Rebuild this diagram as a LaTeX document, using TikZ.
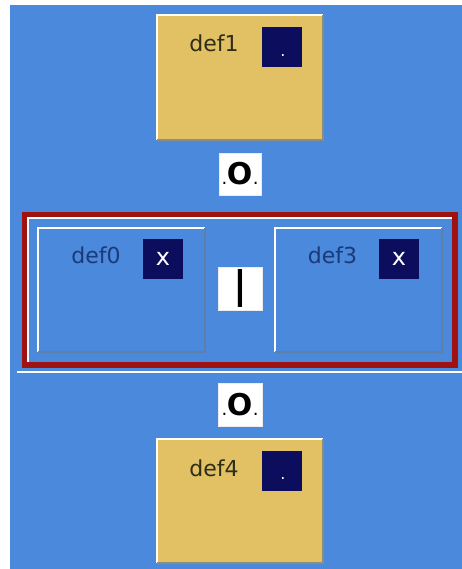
\documentclass[tikz,border=0pt]{standalone}
\usepackage{fontspec}
\setmainfont{DejaVu Sans}
\definecolor{bgblue}{HTML}{4A89DC}
\definecolor{gold}{HTML}{E2C064}
\definecolor{navy}{HTML}{0D0D5E}
\definecolor{framered}{HTML}{9E1212}
\definecolor{gshadow}{HTML}{8C8C80}
\definecolor{bshadow}{HTML}{5E7FA8}
\definecolor{txtdark}{HTML}{2E2E18}
\definecolor{txtblue}{HTML}{1C3A78}
\begin{document}
\begin{tikzpicture}[x=1pt,y=-1pt,
  goldbox/.style={rectangle,fill=gold,inner sep=0pt,minimum width=166pt,minimum height=125pt},
  bluebox/.style={rectangle,fill=bgblue,inner sep=0pt,minimum width=167pt,minimum height=124pt},
  navysq/.style={rectangle,fill=navy,inner sep=0pt,minimum width=40pt,minimum height=40pt},
  opbox/.style={rectangle,fill=white,draw=white!85!gray,line width=0.8pt,inner sep=0pt,minimum width=42pt,minimum height=42pt},
  deflbl/.style={font=\fontsize{22}{22}\selectfont,inner sep=0pt},
  whitemark/.style={text=white,inner sep=0pt},
  hilite/.style={draw=white,line width=2pt},
  lowlite/.style={line width=2pt}
]
\useasboundingbox (0,0) rectangle (462,569);
\fill[white] (0,0) rectangle (462,569);
\fill[bgblue] (10,5) rectangle (462,569);

% top box def1
\node[goldbox] (d1) at (240,77.5) {};
\draw[hilite] (d1.south west) -- (d1.north west) -- (d1.north east);
\draw[lowlite,draw=gshadow] (d1.north east) -- (d1.south east) -- (d1.south west);
\node[deflbl,text=txtdark] (t1) at (214,43) {def1};
\node[navysq] (s1) at (282,47) {};
\node[whitemark,font=\fontsize{16}{16}\selectfont] (m1) at (283,56) {.};

% operator O (top)
\node[opbox] (op1) at (240,174) {};
\node[inner sep=0pt] (o1) at (op1.center) {{\fontsize{18}{18}\selectfont .}\kern-0.5pt{\bfseries\fontsize{30}{30}\selectfont O}\kern0.5pt{\fontsize{18}{18}\selectfont .}};

% frame
\node[rectangle,draw=framered,line width=6pt,inner sep=0pt,minimum width=430pt,minimum height=150pt] (fr) at (240,290) {};
\draw[white,line width=1.5pt] ([shift={(6,-6)}]fr.south west) -- ([shift={(6,6)}]fr.north west) -- ([shift={(-6,6)}]fr.north east);
\draw[white,line width=1.5pt] ([shift={(-5,4)}]fr.south west) -- ([shift={(7,4)}]fr.south east);

% def0
\node[bluebox] (d0) at (121.5,290) {};
\draw[hilite,line width=1.5pt] (d0.south west) -- (d0.north west) -- (d0.north east);
\draw[lowlite,draw=bshadow] (d0.north east) -- (d0.south east) -- (d0.south west);
\node[deflbl,text=txtblue] (t0) at (96,255) {def0};
\node[navysq] (s0) at (163,258.5) {};
\node[whitemark,font=\fontsize{24}{24}\selectfont] (m0) at (s0.center) {x};

% operator |
\node[opbox,minimum width=44pt,minimum height=43pt] (op2) at (240,288.5) {};
\node[inner sep=0pt,font=\bfseries\fontsize{38}{38}\selectfont] (bar) at (op2.center) {|};

% def3
\node[bluebox] (d3) at (358.5,290) {};
\draw[hilite,line width=1.5pt] (d3.south west) -- (d3.north west) -- (d3.north east);
\draw[lowlite,draw=bshadow] (d3.north east) -- (d3.south east) -- (d3.south west);
\node[deflbl,text=txtblue] (t3) at (332.5,255) {def3};
\node[navysq] (s3) at (399,258.5) {};
\node[whitemark,font=\fontsize{24}{24}\selectfont] (m3) at (s3.center) {x};

% operator O (bottom)
\node[opbox,minimum width=44pt,minimum height=43pt] (op3) at (240,404.5) {};
\node[inner sep=0pt] (o3) at (op3.center) {{\fontsize{18}{18}\selectfont .}\kern-0.5pt{\bfseries\fontsize{30}{30}\selectfont O}\kern0.5pt{\fontsize{18}{18}\selectfont .}};

% bottom box def4
\node[goldbox,minimum height=124pt] (d4) at (240,501) {};
\draw[hilite] (d4.south west) -- (d4.north west) -- (d4.north east);
\draw[lowlite,draw=gshadow] (d4.north east) -- (d4.south east) -- (d4.south west);
\node[deflbl,text=txtdark] (t4) at (214,468) {def4};
\node[navysq] (s4) at (282,470.5) {};
\node[whitemark,font=\fontsize{16}{16}\selectfont] (m4) at (283,479) {.};
\end{tikzpicture}
\end{document}
